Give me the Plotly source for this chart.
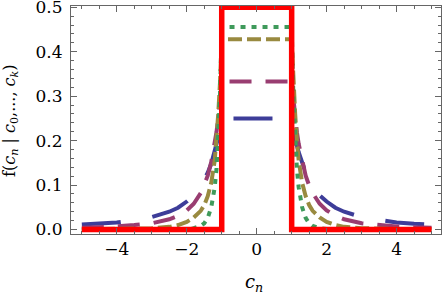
import plotly.graph_objects as go

# tail abscissae (|c_n| >= 1); curves are symmetric about 0
x_tail = [1, 1.05, 1.1, 1.15, 1.2, 1.3, 1.4, 1.5, 1.6, 1.8, 2.0, 2.25, 2.5, 3, 3.5, 4, 4.5, 5]

blue_tail = [0.25, 0.227, 0.207, 0.189, 0.174, 0.148, 0.128, 0.111, 0.098, 0.077, 0.063,
             0.049, 0.040, 0.028, 0.021, 0.016, 0.013, 0.011]
purple_tail = [0.333, 0.288, 0.250, 0.219, 0.193, 0.152, 0.121, 0.099, 0.082, 0.058, 0.043,
               0.031, 0.023, 0.014, 0.010, 0.007, 0.005, 0.004]
olive_tail = [0.428, 0.33, 0.26, 0.20, 0.155, 0.105, 0.075, 0.055, 0.042, 0.027, 0.017,
              0.010, 0.006, 0.003, 0.0015, 0.001, 0.0005, 0.0003]
green_tail = [0.456, 0.30, 0.20, 0.135, 0.095, 0.05, 0.026, 0.014, 0.008, 0.003, 0.0012,
              0.0004, 0.0002, 0.0001, 0, 0, 0, 0]

red_x = [-5, -1, -1, 1, 1, 5]
red_y = [0, 0, 0.5, 0.5, 0, 0]

x_ticks = [-4, -2, 0, 2, 4]
y_ticks = [0.0, 0.1, 0.2, 0.3, 0.4, 0.5]


def full(tail):
    xs = [-t for t in reversed(x_tail)] + list(x_tail)
    ys = list(reversed(tail)) + list(tail)
    return xs, ys


fig = go.Figure()
series = [
    (blue_tail, "#3d3d99", "39px,32px", 4),
    (purple_tail, "#993d71", "22px,14px", 4),
    (olive_tail, "#998a40", "14px,5px", 4),
    (green_tail, "#3f9a5b", "5px,6px", 4),
]
for tail, color, dash, w in series:
    xs, ys = full(tail)
    fig.add_trace(go.Scatter(x=xs, y=ys, mode="lines",
                             line=dict(color=color, width=w, dash=dash),
                             showlegend=False, hoverinfo="skip"))

fig.add_trace(go.Scatter(x=red_x, y=red_y, mode="lines",
                         line=dict(color="#ff0000", width=5.5),
                         showlegend=False, hoverinfo="skip"))

SERIF = "DejaVu Serif"
axis_common = dict(showline=True, linecolor="#666", linewidth=1, mirror="ticks",
                   ticks="inside", tickcolor="#666", showgrid=False, zeroline=False,
                   ticklabeloverflow="allow", automargin=False,
                   tickfont=dict(family=SERIF, size=17, color="black"))

fig.update_xaxes(range=[-5.31, 5.27], tickvals=x_ticks, ticklen=6,
                 minor=dict(dtick=0.5, tick0=0, ticks="inside", ticklen=3, tickcolor="#666"),
                 **axis_common)
fig.update_yaxes(range=[-0.0101, 0.503], tickvals=y_ticks, tickformat=".1f", ticklen=6,
                 ticklabelstandoff=4,
                 minor=dict(dtick=0.02, tick0=0, ticks="inside", ticklen=3, tickcolor="#666"),
                 **axis_common)

fig.update_layout(
    width=442, height=299,
    margin=dict(l=71, r=1, t=6, b=65),
    plot_bgcolor="white", paper_bgcolor="white",
    font=dict(family=SERIF, color="black"),
    annotations=[
        dict(text="f(<i>c</i><sub><i>n</i></sub> | <i>c</i><sub>0</sub>,..., <i>c</i><sub><i>k</i></sub>)",
             xref="paper", yref="paper", x=-0.165, y=0.5, textangle=-90,
             showarrow=False, font=dict(family=SERIF, size=16, color="black"),
             xanchor="center", yanchor="middle"),
        dict(text="<i>c</i><sub><i>n</i></sub>",
             xref="paper", yref="paper", x=0.495, y=-0.215,
             showarrow=False, font=dict(family=SERIF, size=18, color="black"),
             xanchor="center", yanchor="middle"),
    ],
)

fig.write_html("out.html", config={"displayModeBar": False},
               post_script="document.body.style.margin='0';document.body.style.overflow='hidden';")
